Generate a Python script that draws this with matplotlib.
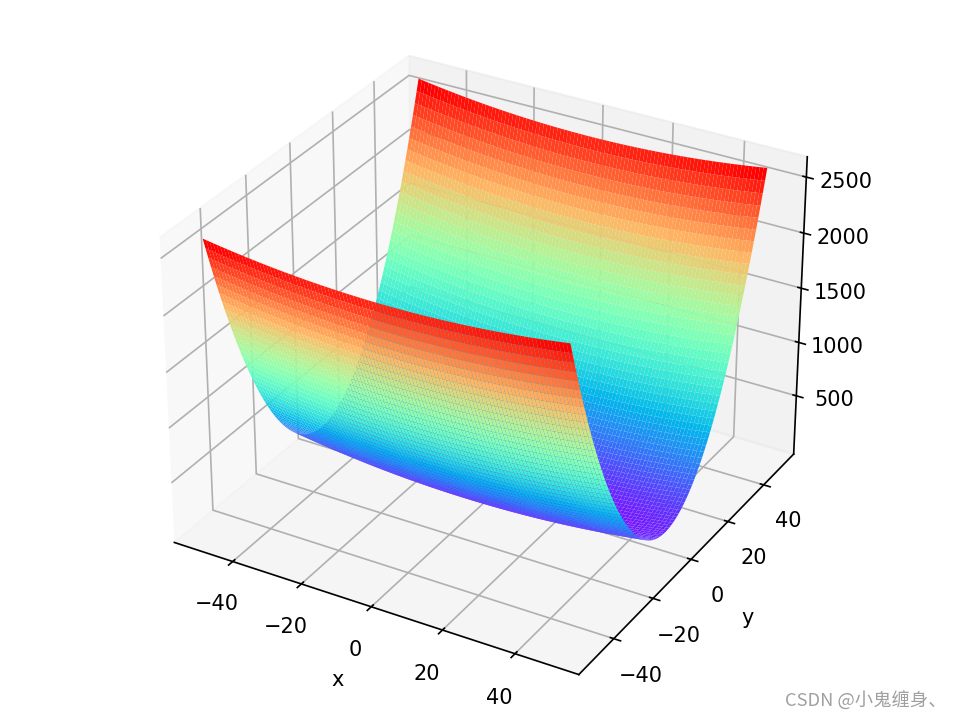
import numpy as np
import matplotlib
matplotlib.use("Agg")
import matplotlib.pyplot as plt

x_values = list(range(-50, 51))
y_values = list(range(-50, 51))
y_half = [2500, 2401, 2304, 2209, 2116, 2025, 1936, 1849, 1764, 1681,
          1600, 1521, 1444, 1369, 1296, 1225, 1156, 1089, 1024, 961,
          900, 841, 784, 729, 676, 625, 576, 529, 484, 441,
          400, 361, 324, 289, 256, 225, 196, 169, 144, 121,
          100, 81, 64, 49, 36, 25, 16, 9, 4, 1, 0]
x_half = [125.0, 120.05, 115.2, 110.45, 105.8, 101.25, 96.8, 92.45, 88.2, 84.05,
          80.0, 76.05, 72.2, 68.45, 64.8, 61.25, 57.8, 54.45, 51.2, 48.05,
          45.0, 42.05, 39.2, 36.45, 33.8, 31.25, 28.8, 26.45, 24.2, 22.05,
          20.0, 18.05, 16.2, 14.45, 12.8, 11.25, 9.8, 8.45, 7.2, 6.05,
          5.0, 4.05, 3.2, 2.45, 1.8, 1.25, 0.8, 0.45, 0.2, 0.05, 0.0]
z_ticks = [500, 1000, 1500, 2000, 2500]
x_label = "x"
y_label = "y"
watermark = "CSDN @小鬼缠身、"

y_part = np.array(y_half + y_half[-2::-1], dtype=float)
x_part = np.array(x_half + x_half[-2::-1], dtype=float)
X, Y = np.meshgrid(np.array(x_values), np.array(y_values))
Z = x_part[np.newaxis, :] + y_part[:, np.newaxis]

fig = plt.figure(figsize=(6.4, 4.8), dpi=150)
ax = fig.add_axes([0, 0, 1, 1], projection="3d")
ax.plot_surface(X, Y, Z, rstride=1, cstride=1, cmap="rainbow")
ax.set_zticks(z_ticks)
ax.set_xlabel(x_label)
ax.set_ylabel(y_label)

fig.text(0.9865, 0.0265, watermark, ha="right", va="center", fontsize=8.8,
         color="#a0a0a0", family=["Noto Sans CJK SC", "DejaVu Sans"])
fig.savefig("out.png", dpi=150)
